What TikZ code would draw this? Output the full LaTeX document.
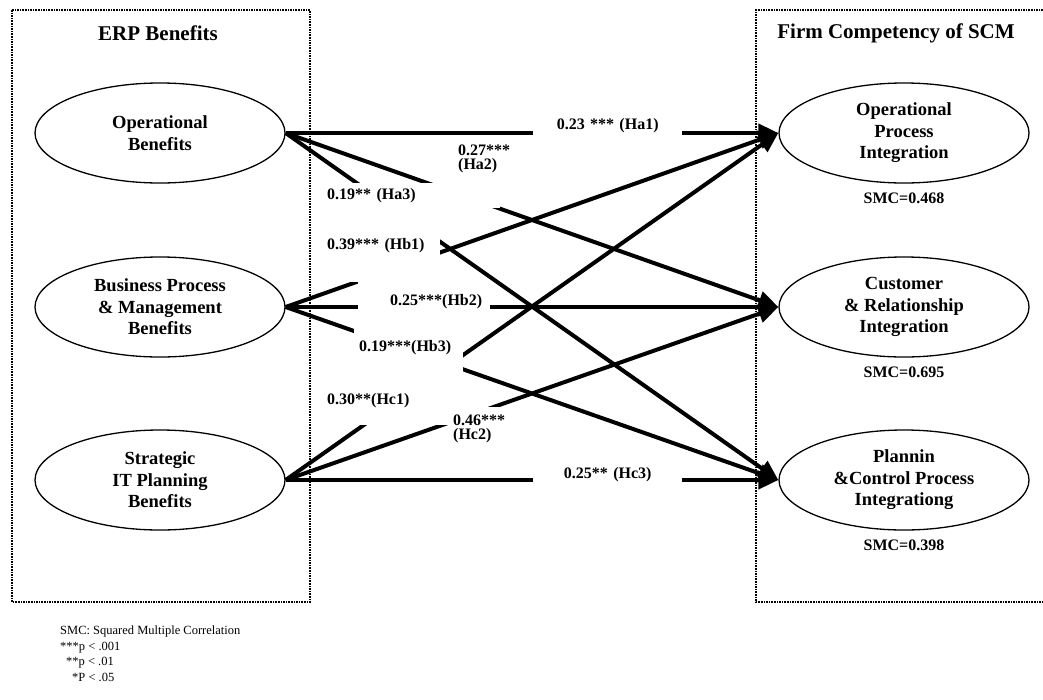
\documentclass[tikz,border=0pt]{standalone}
\usepackage{fontspec}
\setmainfont{Liberation Serif}
\usetikzlibrary{shapes.geometric, arrows.meta, positioning}

\tikzset{
    construct/.style={ellipse, draw, line width=1.3pt, minimum width=250pt, minimum height=100pt,
        align=center, font=\bfseries\fontsize{18.5}{21.5}\selectfont},
    effect/.style={line width=4pt, -{Triangle[length=20pt, width=18pt]}},
    coef/.style={fill=white, anchor=north west, inner sep=5pt, font=\bfseries\fontsize{16}{14}\selectfont},
    smc/.style={font=\bfseries\fontsize{16}{18}\selectfont},
    frame/.style={densely dotted, line width=1.6pt},
    heading/.style={font=\bfseries\fontsize{21}{24}\selectfont}
}

\begin{document}
\begin{tikzpicture}[x=1pt, y=-1pt]
    \useasboundingbox (0,0) rectangle (1043,699);

    % =========================================================
    % GROUP FRAMES
    % =========================================================
    \draw[frame] (12,10) rectangle (310,602);
    \draw[frame] (1043,10) -- (756,10) -- (756,602) -- (1043,602);
    \node[heading] (erp) at (158,33) {ERP Benefits};
    \node[heading] (scm) at (896,33) {Firm Competency of SCM};

    % =========================================================
    % ERP BENEFITS (LEFT)
    % =========================================================
    \node[construct] (ob) at (160,133) {Operational\\Benefits};
    \node[construct] (bpm) at (160,307) {Business Process\\\& Management\\Benefits};
    \node[construct] (sitp) at (160,480) {Strategic\\IT Planning\\Benefits};

    % =========================================================
    % SCM COMPETENCY (RIGHT)
    % =========================================================
    \node[construct] (opi) at (904,133) {Operational\\Process\\Integration};
    \node[construct] (cri) at (904,307) {Customer\\\& Relationship\\Integration};
    \node[construct] (pcpi) at (904,480) {Plannin\\\&Control Process\\Integrationg};
    \node[smc, below=6pt of opi] (smca) {SMC=0.468};
    \node[smc, below=6pt of cri] (smcb) {SMC=0.695};
    \node[smc, below=6pt of pcpi] (smcc) {SMC=0.398};

    % =========================================================
    % PATHS
    % =========================================================
    \foreach \src in {ob, bpm, sitp} {
        \foreach \dst in {opi, cri, pcpi} {
            \draw[effect] (\src.east) -- (\dst.west);
        }
    }

    % path coefficients (white boxes cut the lines)
    \node[coef, text width=139pt, align=center, minimum height=30pt] (lha1) at (533,110) {0.23 *** (Ha1)};
    \node[coef, text width=60pt, align=left, minimum height=32pt] (lha2) at (453,140) {0.27***\\(Ha2)};
    \node[coef, text width=168pt, align=left, minimum height=25pt] (lha3) at (322,183) {0.19** (Ha3)};
    \node[coef, text width=108pt, align=left, minimum height=74pt] (lhb1) at (322,208) {0.39*** (Hb1)};
    \node[coef, text width=116pt, align=right, inner xsep=8pt, minimum height=38pt] (lhb2) at (358,282) {0.25***(Hb2)};
    \node[coef, text width=99pt, align=left, minimum height=55pt] (lhb3) at (354,320) {0.19***(Hb3)};
    \node[coef, text width=131pt, align=left, minimum height=50pt] (lhc1) at (322,375) {0.30**(Hc1)};
    \node[coef, text width=62pt, align=left, minimum height=43pt] (lhc2) at (448,407) {0.46***\\(Hc2)};
    \node[coef, text width=139pt, align=center, minimum height=32pt] (lhc3) at (533,458) {0.25** (Hc3)};

    % =========================================================
    % NOTES
    % =========================================================
    \node[anchor=north west, inner sep=0pt, align=left, font=\fontsize{12.5}{15.5}\selectfont] (notes) at (60,626)
        {SMC: Squared Multiple Correlation\\***p < .001\\\hspace*{6pt}**p < .01\\\hspace*{12pt}*P < .05};
\end{tikzpicture}
\end{document}
